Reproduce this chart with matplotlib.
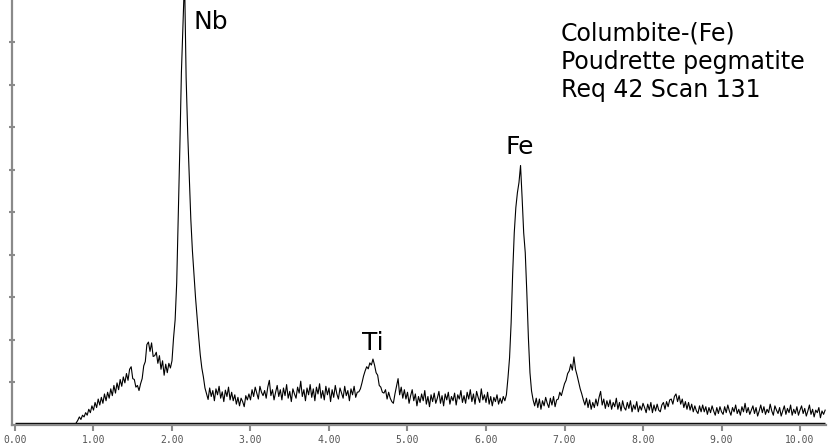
import numpy as np
import matplotlib
matplotlib.use("Agg")
import matplotlib.pyplot as plt

# EDS spectrum, channel width 0.02 keV starting at 0.78 keV
e_start = 0.78
e_step = 0.02
counts = [
    0, 6, 14, 8, 18, 14, 24, 18, 32, 24,           # 0.78
    40, 30, 48, 36, 56, 42, 60, 46, 68, 52,        # 0.98
    72, 58, 80, 64, 88, 70, 94, 78, 102, 86,       # 1.18
    108, 94, 116, 100, 126, 132, 104, 102, 84, 88,  # 1.38
    76, 92, 104, 134, 144, 184, 190, 168, 188, 156,  # 1.58
    158, 166, 140, 158, 126, 146, 112, 138, 118, 140,  # 1.78
    129, 146, 200, 242, 329, 485, 647, 824, 937, 1047,  # 1.98 (Nb)
    812, 682, 577, 478, 405, 348, 294, 247, 202, 160,  # 2.18
    129, 108, 82, 68, 55, 82, 62, 76, 52, 80,      # 2.38
    66, 86, 58, 73, 50, 77, 62, 84, 54, 72,        # 2.58
    52, 66, 44, 60, 40, 58, 50, 38, 64, 54,        # 2.78
    68, 54, 78, 62, 84, 70, 56, 86, 72, 64,        # 2.98
    76, 58, 84, 100, 64, 78, 54, 72, 88, 62,       # 3.18
    78, 54, 82, 64, 90, 58, 74, 50, 80, 68,        # 3.38
    58, 84, 70, 98, 62, 78, 52, 82, 66, 90,        # 3.58
    60, 80, 52, 84, 68, 92, 58, 76, 54, 86,        # 3.78
    66, 82, 50, 78, 60, 88, 68, 56, 82, 70,        # 3.98
    58, 86, 64, 76, 52, 80, 66, 86, 60, 72,        # 4.18
    73, 80, 94, 110, 122, 132, 127, 141, 136, 150,  # 4.38 (Ti)
    136, 118, 112, 88, 84, 72, 70, 78, 56, 72,     # 4.58
    58, 50, 46, 68, 86, 104, 66, 84, 58, 78,       # 4.78
    56, 72, 46, 64, 78, 52, 68, 40, 62, 48,        # 4.98
    68, 52, 76, 44, 62, 38, 66, 50, 70, 46,        # 5.18
    58, 74, 46, 64, 40, 68, 54, 72, 44, 62,        # 5.38
    52, 70, 42, 66, 56, 76, 48, 64, 46, 72,        # 5.58
    56, 78, 50, 68, 44, 74, 60, 48, 80, 54,        # 5.78
    66, 48, 72, 44, 62, 40, 60, 50, 66, 44,        # 5.98
    58, 46, 62, 52, 66, 106, 153, 235, 353, 447,   # 6.18 (Fe)
    506, 541, 565, 605, 529, 447, 400, 306, 200, 118,  # 6.38
    75, 54, 40, 58, 36, 56, 32, 52, 40, 60,        # 6.58
    46, 36, 58, 42, 62, 38, 54, 56, 72, 64,        # 6.78
    78, 92, 100, 116, 122, 138, 124, 155, 126, 112,  # 6.98
    96, 80, 68, 54, 42, 58, 36, 54, 32, 48,        # 7.18
    36, 56, 40, 60, 74, 42, 56, 34, 52, 38,        # 7.38
    54, 32, 48, 38, 58, 32, 48, 28, 52, 36,        # 7.58
    30, 48, 34, 52, 26, 42, 32, 50, 26, 40,        # 7.78
    30, 46, 36, 24, 44, 30, 48, 24, 42, 28,        # 7.98
    44, 30, 26, 42, 48, 32, 50, 38, 54, 56,        # 8.18
    44, 62, 68, 50, 64, 44, 56, 36, 50, 32,        # 8.38
    48, 30, 44, 26, 40, 28, 22, 40, 26, 42,        # 8.58
    26, 38, 20, 36, 24, 40, 28, 18, 36, 22,        # 8.78
    38, 26, 20, 38, 24, 42, 28, 18, 36, 26,        # 8.98
    42, 22, 32, 18, 38, 26, 46, 24, 36, 20,        # 9.18
    30, 40, 22, 36, 16, 28, 42, 24, 38, 20,        # 9.38
    32, 24, 44, 28, 18, 40, 30, 22, 36, 16,        # 9.58
    28, 40, 20, 34, 24, 42, 18, 32, 22, 38,        # 9.78
    18, 30, 40, 22, 34, 16, 28, 42, 20, 32,        # 9.98
    14, 30, 24, 36, 12, 28, 20, 30,                # 10.18
]

energy = e_start + e_step * np.arange(len(counts))

# peak labels: (text, energy, counts at baseline of text)
peak_labels = [("Nb", 2.27, 925), ("Ti", 4.56, 172), ("Fe", 6.43, 631)]
x_ticks = [0, 1, 2, 3, 4, 5, 6, 7, 8, 9, 10]
info_lines = ["Columbite-(Fe)", "Poudrette pegmatite", "Req 42 Scan 131"]

W, H = 832, 448
fig = plt.figure(figsize=(W / 100, H / 100), dpi=100)
ax = fig.add_axes([12 / W, (H - 425) / H, (826 - 12) / W, 425 / H])

axis_grey = "#8a8a8a"
ax.hlines(0, 0, energy[-1], color="black", lw=1.0)
ax.plot(energy, counts, color="black", lw=0.8)

ax.set_xlim(-0.038, 10.331)
ax.set_ylim(-5, 994)

for side in ["top", "right"]:
    ax.spines[side].set_visible(False)
for side in ["left", "bottom"]:
    ax.spines[side].set_color(axis_grey)
    ax.spines[side].set_linewidth(1.6)

ax.set_xticks(x_ticks)
ax.set_xticklabels(["%.2f" % t for t in x_ticks])
ax.set_yticks(np.arange(95, 900, 100))
ax.set_yticklabels([])
ax.tick_params(axis="x", direction="out", length=4, width=1.5, color=axis_grey,
               labelsize=7, labelcolor="#555555", pad=3)
ax.tick_params(axis="y", direction="inout", length=5, width=1.5, color=axis_grey)
for lbl in ax.get_xticklabels():
    lbl.set_family("DejaVu Sans Mono")

for txt, e, c in peak_labels:
    ax.text(e, c, txt, fontsize=18, ha="center" if txt != "Nb" else "left",
            va="baseline", family="DejaVu Sans")

for i, line in enumerate(info_lines):
    fig.text(561 / W, 1 - (40 + 28.7 * i) / H, line, fontsize=17,
             ha="left", va="baseline", family="DejaVu Sans")

fig.savefig("out.png", dpi=100)
